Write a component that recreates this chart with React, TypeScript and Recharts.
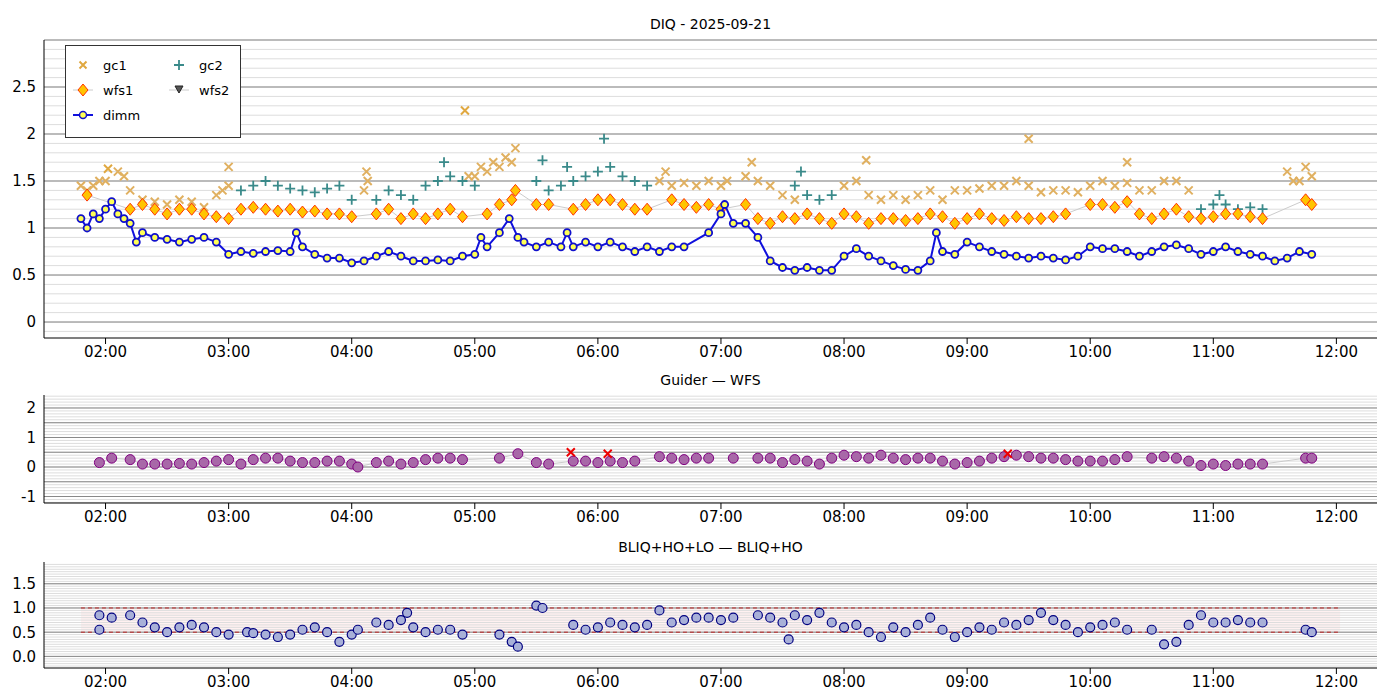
import { ComposedChart, Scatter, XAxis, YAxis, ReferenceLine, ReferenceArea } from 'recharts';

// hours after midnight (UT) -> value
const gc1Pts: [number, number][] = [
  [1.8, 1.45], [1.85, 1.4], [1.9, 1.45], [1.95, 1.5], [2.0, 1.5], [2.1, 1.6], [2.15, 1.55], [2.2, 1.4], [2.3, 1.3], [2.4, 1.28],
  [2.5, 1.25], [2.6, 1.3], [2.7, 1.28], [2.8, 1.22], [2.9, 1.35], [2.95, 1.4], [3.0, 1.45], [3.0, 1.65],
  [4.1, 1.4], [4.12, 1.6], [4.13, 1.5], [4.95, 1.55], [5.0, 1.55], [5.05, 1.65], [5.1, 1.6], [5.15, 1.7], [5.2, 1.65],
  [5.25, 1.75], [5.3, 1.7], [5.33, 1.85], [6.5, 1.5], [6.55, 1.6], [6.6, 1.45], [6.7, 1.48], [6.8, 1.45], [6.9, 1.5],
  [7.0, 1.45], [7.05, 1.5], [7.2, 1.55], [7.25, 1.7], [7.3, 1.5], [7.4, 1.45], [7.5, 1.35], [7.6, 1.3],
  [8.0, 1.45], [8.1, 1.5], [8.18, 1.72], [8.2, 1.35], [8.3, 1.3], [8.4, 1.35], [8.5, 1.3], [8.6, 1.35], [8.7, 1.4],
  [8.8, 1.3], [8.9, 1.4], [9.0, 1.4], [9.1, 1.42], [9.2, 1.45], [9.3, 1.45], [9.4, 1.5], [9.5, 1.45], [9.5, 1.95],
  [9.6, 1.38], [9.7, 1.4], [9.8, 1.4], [9.9, 1.38], [10.0, 1.45], [10.1, 1.5], [10.2, 1.45], [10.3, 1.48], [10.3, 1.7],
  [10.4, 1.4], [10.5, 1.4], [10.6, 1.5], [10.7, 1.5], [10.8, 1.4], [11.6, 1.6], [11.65, 1.5], [11.7, 1.5],
  [11.75, 1.65], [11.8, 1.55],
];
const gc1Outliers: [number, number][] = [[4.92, 2.25], [2.02, 1.63]];

const gc2Pts: [number, number][] = [
  [3.1, 1.4], [3.2, 1.45], [3.3, 1.5], [3.4, 1.45], [3.5, 1.42], [3.6, 1.4], [3.7, 1.38], [3.8, 1.42], [3.9, 1.45],
  [4.0, 1.3], [4.2, 1.3], [4.3, 1.4], [4.4, 1.35], [4.5, 1.3], [4.6, 1.45], [4.7, 1.5], [4.75, 1.7], [4.8, 1.55],
  [4.9, 1.5], [5.0, 1.45], [5.5, 1.5], [5.55, 1.72], [5.6, 1.4], [5.7, 1.45], [5.75, 1.65], [5.8, 1.5], [5.9, 1.55],
  [6.0, 1.6], [6.05, 1.95], [6.1, 1.65], [6.2, 1.55], [6.3, 1.5], [6.4, 1.45], [7.6, 1.45], [7.65, 1.6],
  [7.7, 1.35], [7.8, 1.3], [7.9, 1.35], [10.9, 1.2], [11.0, 1.25], [11.05, 1.35], [11.1, 1.25], [11.2, 1.2],
  [11.3, 1.22], [11.4, 1.2],
];

const wfs1Pts: [number, number][] = [
  [1.85, 1.35], [2.2, 1.2], [2.3, 1.25], [2.4, 1.2], [2.5, 1.15], [2.6, 1.2], [2.7, 1.2], [2.8, 1.15],
  [2.9, 1.12], [3.0, 1.1], [3.1, 1.2], [3.2, 1.22], [3.3, 1.2], [3.4, 1.18], [3.5, 1.2], [3.6, 1.17], [3.7, 1.18],
  [3.8, 1.15], [3.9, 1.15], [4.0, 1.12], [4.2, 1.15], [4.3, 1.2], [4.4, 1.1], [4.5, 1.15], [4.6, 1.1], [4.7, 1.15],
  [4.8, 1.2], [4.9, 1.12], [5.1, 1.15], [5.2, 1.25], [5.3, 1.3], [5.33, 1.4], [5.5, 1.25], [5.6, 1.25],
  [5.8, 1.2], [5.9, 1.25], [6.0, 1.3], [6.1, 1.3], [6.2, 1.25], [6.3, 1.2], [6.4, 1.2], [6.6, 1.3], [6.7, 1.25],
  [6.8, 1.22], [6.9, 1.25], [7.0, 1.2], [7.2, 1.25], [7.3, 1.1], [7.4, 1.05], [7.5, 1.12], [7.6, 1.1], [7.7, 1.15],
  [7.8, 1.1], [7.9, 1.05], [8.0, 1.15], [8.1, 1.12], [8.2, 1.05], [8.3, 1.1], [8.4, 1.1], [8.5, 1.08], [8.6, 1.1],
  [8.7, 1.15], [8.8, 1.12], [8.9, 1.05], [9.0, 1.1], [9.1, 1.15], [9.2, 1.1], [9.3, 1.08], [9.4, 1.12], [9.5, 1.1],
  [9.6, 1.1], [9.7, 1.12], [9.8, 1.15], [10.0, 1.25], [10.1, 1.25], [10.2, 1.22], [10.3, 1.28], [10.4, 1.15],
  [10.5, 1.1], [10.6, 1.15], [10.7, 1.2], [10.8, 1.12], [10.9, 1.1], [11.0, 1.12], [11.1, 1.15], [11.2, 1.15],
  [11.3, 1.12], [11.4, 1.1], [11.75, 1.3], [11.8, 1.25],
];

const dimmPts: [number, number][] = [
  [1.8, 1.1], [1.85, 1.0], [1.9, 1.15], [1.95, 1.1], [2.0, 1.2], [2.05, 1.28], [2.1, 1.15], [2.15, 1.1], [2.2, 1.05],
  [2.25, 0.85], [2.3, 0.95], [2.4, 0.9], [2.5, 0.88], [2.6, 0.85], [2.7, 0.88], [2.8, 0.9], [2.9, 0.85], [3.0, 0.72],
  [3.1, 0.75], [3.2, 0.73], [3.3, 0.75], [3.4, 0.76], [3.5, 0.75], [3.55, 0.95], [3.6, 0.8], [3.7, 0.72],
  [3.8, 0.68], [3.9, 0.68], [4.0, 0.63], [4.1, 0.65], [4.2, 0.7], [4.3, 0.75], [4.4, 0.7], [4.5, 0.65],
  [4.6, 0.65], [4.7, 0.66], [4.8, 0.65], [4.9, 0.7], [5.0, 0.72], [5.05, 0.9], [5.1, 0.8], [5.2, 0.95],
  [5.28, 1.1], [5.35, 0.9], [5.4, 0.85], [5.5, 0.8], [5.6, 0.85], [5.7, 0.8], [5.75, 0.95], [5.8, 0.8],
  [5.9, 0.85], [6.0, 0.8], [6.1, 0.85], [6.2, 0.8], [6.3, 0.75], [6.4, 0.8], [6.5, 0.75], [6.6, 0.8], [6.7, 0.8],
  [6.9, 0.95], [7.0, 1.15], [7.03, 1.25], [7.1, 1.05], [7.2, 1.05], [7.3, 0.9], [7.4, 0.65], [7.5, 0.58],
  [7.6, 0.55], [7.7, 0.58], [7.8, 0.55], [7.9, 0.55], [8.0, 0.7], [8.1, 0.78], [8.2, 0.7], [8.3, 0.65],
  [8.4, 0.6], [8.5, 0.56], [8.6, 0.55], [8.7, 0.65], [8.75, 0.95], [8.8, 0.75], [8.9, 0.72], [9.0, 0.85],
  [9.1, 0.8], [9.2, 0.75], [9.3, 0.72], [9.4, 0.7], [9.5, 0.68], [9.6, 0.7], [9.7, 0.68], [9.8, 0.66], [9.9, 0.7],
  [10.0, 0.8], [10.1, 0.78], [10.2, 0.78], [10.3, 0.75], [10.4, 0.7], [10.5, 0.75], [10.6, 0.8], [10.7, 0.82],
  [10.8, 0.78], [10.9, 0.72], [11.0, 0.75], [11.1, 0.8], [11.2, 0.75], [11.3, 0.72], [11.4, 0.7], [11.5, 0.65],
  [11.6, 0.68], [11.7, 0.75], [11.8, 0.72],
];

const guiderPts: [number, number][] = [
  [1.95, 0.15], [2.05, 0.3], [2.2, 0.25], [2.3, 0.1], [2.4, 0.1], [2.5, 0.1], [2.6, 0.12], [2.7, 0.1], [2.8, 0.15],
  [2.9, 0.2], [3.0, 0.25], [3.1, 0.1], [3.2, 0.25], [3.3, 0.3], [3.4, 0.3], [3.5, 0.2], [3.6, 0.15], [3.7, 0.15],
  [3.8, 0.2], [3.9, 0.2], [4.0, 0.1], [4.05, 0.0], [4.2, 0.15], [4.3, 0.2], [4.4, 0.1], [4.5, 0.15], [4.6, 0.25],
  [4.7, 0.3], [4.8, 0.3], [4.9, 0.25], [5.2, 0.3], [5.35, 0.45], [5.5, 0.15], [5.6, 0.1], [5.8, 0.2], [5.9, 0.2],
  [6.0, 0.15], [6.1, 0.2], [6.2, 0.15], [6.3, 0.2], [6.5, 0.35], [6.6, 0.3], [6.7, 0.25], [6.8, 0.3], [6.9, 0.3],
  [7.1, 0.3], [7.3, 0.3], [7.4, 0.3], [7.5, 0.15], [7.6, 0.25], [7.7, 0.2], [7.8, 0.1], [7.9, 0.3], [8.0, 0.4],
  [8.1, 0.35], [8.2, 0.3], [8.3, 0.4], [8.4, 0.3], [8.5, 0.25], [8.6, 0.3], [8.7, 0.3], [8.8, 0.2], [8.9, 0.1],
  [9.0, 0.15], [9.1, 0.2], [9.2, 0.3], [9.3, 0.35], [9.4, 0.4], [9.5, 0.35], [9.6, 0.3], [9.7, 0.3], [9.8, 0.25],
  [9.9, 0.2], [10.0, 0.2], [10.1, 0.2], [10.2, 0.25], [10.3, 0.35], [10.5, 0.3], [10.6, 0.35], [10.7, 0.3],
  [10.8, 0.2], [10.9, 0.05], [11.0, 0.1], [11.1, 0.05], [11.2, 0.1], [11.3, 0.1], [11.4, 0.1], [11.75, 0.3], [11.8, 0.3],
];
const guiderFlags: [number, number][] = [[5.78, 0.5], [6.08, 0.45], [9.33, 0.45]];

const bliqPts: [number, number][] = [
  [1.95, 0.85], [1.95, 0.55], [2.05, 0.8], [2.2, 0.85], [2.3, 0.7], [2.4, 0.6], [2.5, 0.5], [2.6, 0.6], [2.7, 0.65],
  [2.8, 0.6], [2.9, 0.5], [3.0, 0.45], [3.15, 0.5], [3.2, 0.48], [3.3, 0.45], [3.4, 0.4], [3.5, 0.45], [3.6, 0.55],
  [3.7, 0.6], [3.8, 0.5], [3.9, 0.3], [4.0, 0.45], [4.05, 0.55], [4.2, 0.7], [4.3, 0.65], [4.4, 0.75], [4.45, 0.9],
  [4.5, 0.6], [4.6, 0.5], [4.7, 0.55], [4.8, 0.55], [4.9, 0.45], [5.2, 0.45], [5.3, 0.3], [5.35, 0.2], [5.5, 1.05],
  [5.55, 1.0], [5.8, 0.65], [5.9, 0.55], [6.0, 0.6], [6.1, 0.7], [6.2, 0.65], [6.3, 0.6], [6.4, 0.65], [6.5, 0.95],
  [6.6, 0.7], [6.7, 0.75], [6.8, 0.8], [6.9, 0.8], [7.0, 0.75], [7.1, 0.8], [7.3, 0.85], [7.4, 0.8], [7.5, 0.7],
  [7.55, 0.35], [7.6, 0.85], [7.7, 0.75], [7.8, 0.9], [7.9, 0.7], [8.0, 0.6], [8.1, 0.65], [8.2, 0.5], [8.3, 0.4],
  [8.4, 0.6], [8.5, 0.5], [8.6, 0.65], [8.7, 0.8], [8.8, 0.55], [8.9, 0.4], [9.0, 0.5], [9.1, 0.6], [9.2, 0.55],
  [9.3, 0.7], [9.4, 0.65], [9.5, 0.75], [9.6, 0.9], [9.7, 0.75], [9.8, 0.65], [9.9, 0.5], [10.0, 0.6], [10.1, 0.65],
  [10.2, 0.7], [10.3, 0.55], [10.5, 0.55], [10.6, 0.25], [10.7, 0.3], [10.8, 0.65], [10.9, 0.85], [11.0, 0.7],
  [11.1, 0.7], [11.2, 0.75], [11.3, 0.7], [11.4, 0.7], [11.75, 0.55], [11.8, 0.5],
];

const hourTicks = [2, 3, 4, 5, 6, 7, 8, 9, 10, 11, 12];
const xDomain: [number, number] = [1.5, 12.33];
const fmtHour = (h: number) => `${String(h).padStart(2, '0')}:00`;

const toRows = (pts: [number, number][]) => pts.map(([t, v]) => ({ t, v }));

const range = (a: number, b: number, step: number) => {
  const out: number[] = [];
  for (let v = a; v <= b + 1e-9; v += step) out.push(Math.round(v * 100) / 100);
  return out;
};

const Cross = (color: string, size = 4) => (p: any) => (
  <path d={`M${p.cx - size},${p.cy - size}L${p.cx + size},${p.cy + size}M${p.cx - size},${p.cy + size}L${p.cx + size},${p.cy - size}`}
    stroke={color} strokeWidth={2} />
);
const Plus = (color: string, size = 5) => (p: any) => (
  <path d={`M${p.cx - size},${p.cy}L${p.cx + size},${p.cy}M${p.cx},${p.cy - size}L${p.cx},${p.cy + size}`}
    stroke={color} strokeWidth={1.8} />
);
const Diamond = (p: any) => (
  <path d={`M${p.cx},${p.cy - 6}L${p.cx + 5},${p.cy}L${p.cx},${p.cy + 6}L${p.cx - 5},${p.cy}Z`}
    fill="#ffc400" stroke="#ff3300" strokeWidth={1} />
);
const Dot = (fill: string, stroke: string, r: number, sw = 1) => (p: any) => (
  <circle cx={p.cx} cy={p.cy} r={r} fill={fill} stroke={stroke} strokeWidth={sw} />
);

const font = 'DejaVu Sans, sans-serif';
const axisTick = { fontSize: 15, fill: '#000', fontFamily: font };

function Grid({ minor, major }: { minor: number[]; major: number[] }) {
  return (
    <>
      {minor.map((y) => <ReferenceLine key={'m' + y} y={y} stroke="#dddddd" strokeWidth={1} />)}
      {major.map((y) => <ReferenceLine key={'M' + y} y={y} stroke="#888888" strokeWidth={1} />)}
    </>
  );
}

const Title = ({ top, text }: { top: number; text: string }) => (
  <div style={{ position: 'absolute', top, left: 44, width: 1333, textAlign: 'center', fontFamily: font, fontSize: 14 }}>{text}</div>
);

function LegendBox() {
  const row = (x: number, y: number, sym: any, label: string) => (
    <g>
      {sym(x, y)}
      <text x={x + 20} y={y + 5} fontSize={13} fontFamily={font}>{label}</text>
    </g>
  );
  return (
    <svg style={{ position: 'absolute', left: 65, top: 45 }} width={177} height={94}>
      <rect x={0.5} y={0.5} width={175} height={92} fill="#fff" stroke="#333" />
      {row(18, 20, (x: number, y: number) => Cross('#e0a840', 3.5)({ cx: x, cy: y }), 'gc1')}
      {row(114, 20, (x: number, y: number) => Plus('#3a8a8a', 5)({ cx: x, cy: y }), 'gc2')}
      {row(18, 45, (x: number, y: number) => (<g><line x1={x - 10} x2={x + 10} y1={y} y2={y} stroke="#ccc" />{Diamond({ cx: x, cy: y })}</g>), 'wfs1')}
      {row(114, 45, (x: number, y: number) => (<g><line x1={x - 10} x2={x + 10} y1={y} y2={y} stroke="#ccc" /><path d={`M${x - 4},${y - 4}L${x + 4},${y - 4}L${x},${y + 3}Z`} fill="#555" stroke="#222" /></g>), 'wfs2')}
      {row(18, 70, (x: number, y: number) => (<g><line x1={x - 10} x2={x + 10} y1={y} y2={y} stroke="#1010dd" strokeWidth={2} />{Dot('#ffff55', '#1010cc', 3.5, 1.5)({ cx: x, cy: y })}</g>), 'dimm')}
    </svg>
  );
}

export default function App() {
  return (
    <div style={{ position: 'absolute', left: 0, top: 0, width: 1400, height: 700, background: '#fff' }}>
      <Title top={16} text="DIQ - 2025-09-21" />
      <div style={{ position: 'absolute', top: 0, left: 0 }}>
        <ComposedChart width={1400} height={370} margin={{ top: 40, right: 23, left: 4, bottom: 0 }}>
          <Grid minor={range(-0.1, 3.0, 0.1)} major={range(0, 3, 0.5)} />
          <XAxis type="number" dataKey="t" domain={xDomain} ticks={hourTicks} tickFormatter={fmtHour}
            allowDataOverflow height={32} tick={axisTick} stroke="#000" />
          <YAxis type="number" dataKey="v" domain={[-0.17, 3.0]} ticks={[0, 0.5, 1, 1.5, 2, 2.5]} allowDataOverflow
            width={40} tick={axisTick} tickLine={false} stroke="#000" />
          <Scatter data={toRows(gc1Pts)} shape={Cross('#e0b060')} isAnimationActive={false} />
          <Scatter data={toRows(gc1Outliers)} shape={Cross('#e0a840')} isAnimationActive={false} />
          <Scatter data={toRows(gc2Pts)} shape={Plus('#3a8a8a')} isAnimationActive={false} />
          <Scatter data={toRows(wfs1Pts)} shape={Diamond} line={{ stroke: '#cccccc', strokeWidth: 1 }} isAnimationActive={false} />
          <Scatter data={toRows(dimmPts)} shape={Dot('#ffff55', '#1010cc', 3.5, 1.8)} line={{ stroke: '#1010dd', strokeWidth: 2 }} isAnimationActive={false} />
        </ComposedChart>
      </div>
      <LegendBox />

      <Title top={372} text="Guider — WFS" />
      <div style={{ position: 'absolute', top: 360, left: 0 }}>
        <ComposedChart width={1400} height={175} margin={{ top: 35, right: 23, left: 4, bottom: 0 }}>
          <Grid minor={range(-1.2, 2.4, 0.1)} major={range(-1, 2, 0.5)} />
          <XAxis type="number" dataKey="t" domain={xDomain} ticks={hourTicks} tickFormatter={fmtHour}
            allowDataOverflow height={32} tick={axisTick} stroke="#000" />
          <YAxis type="number" dataKey="v" domain={[-1.22, 2.44]} ticks={[-1, 0, 1, 2]} allowDataOverflow
            width={40} tick={axisTick} tickLine={false} stroke="#000" />
          <Scatter data={toRows(guiderPts)} shape={Dot('#a868a8', '#800080', 5, 1)} line={{ stroke: '#cccccc', strokeWidth: 1 }} isAnimationActive={false} />
          <Scatter data={toRows(guiderFlags)} shape={Cross('#ee0000', 4)} isAnimationActive={false} />
        </ComposedChart>
      </div>

      <Title top={539} text="BLIQ+HO+LO — BLIQ+HO" />
      <div style={{ position: 'absolute', top: 530, left: 0 }}>
        <ComposedChart width={1400} height={170} margin={{ top: 32, right: 23, left: 4, bottom: 0 }}>
          <Grid minor={range(-0.2, 1.9, 0.05)} major={range(0, 1.5, 0.5)} />
          <ReferenceArea x1={1.8} x2={12.03} y1={0.5} y2={1.0} fill="#ffdddd" fillOpacity={0.4} stroke="none" />
          <ReferenceLine segment={[{ x: 1.8, y: 1.0 }, { x: 12.03, y: 1.0 }]} stroke="#bb2222" strokeDasharray="4 3" />
          <ReferenceLine segment={[{ x: 1.8, y: 0.5 }, { x: 12.03, y: 0.5 }]} stroke="#bb2222" strokeDasharray="4 3" />
          <XAxis type="number" dataKey="t" domain={xDomain} ticks={hourTicks} tickFormatter={fmtHour}
            allowDataOverflow height={32} tick={axisTick} stroke="#000" />
          <YAxis type="number" dataKey="v" domain={[-0.24, 1.95]} ticks={[0, 0.5, 1, 1.5]} tickFormatter={(v: number) => v.toFixed(1)}
            allowDataOverflow width={40} tick={axisTick} tickLine={false} stroke="#000" />
          <Scatter data={toRows(bliqPts)} shape={Dot('#a8b0d8', '#000080', 4.5, 1.2)} isAnimationActive={false} />
        </ComposedChart>
      </div>
    </div>
  );
}
